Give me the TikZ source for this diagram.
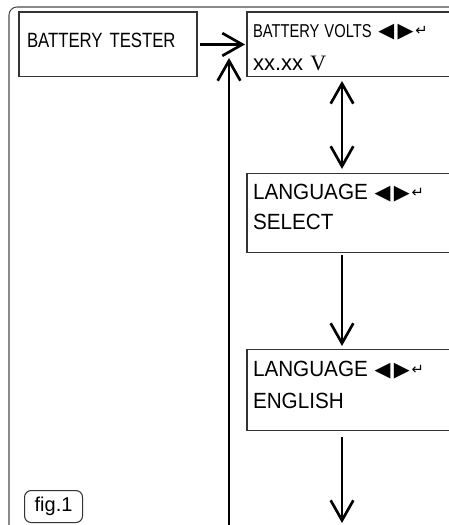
\documentclass[tikz,border=0pt]{standalone}
\usepackage{fontspec}
\usepackage{graphicx}
\setmainfont{Liberation Sans}
\newfontfamily\symfont{DejaVu Sans}
\newfontfamily\voltfont{Liberation Serif}
\usetikzlibrary{arrows.meta, positioning}
\newcommand{\navkeys}{\hspace{5pt}{\symfont\fontsize{15.5}{15.5}\selectfont ◀\hspace{2.5pt}▶\hspace{1.5pt}\raisebox{1.5pt}{\fontsize{11}{11}\selectfont ↵}}}

\begin{document}
\begin{tikzpicture}[x=0.75pt,y=-0.75pt,node distance=72.75pt,
    >={Straight Barb[length=15pt,width=17pt,line width=2pt]},
    screen/.style={draw=black!80, line width=0.8pt, inner xsep=4.5pt, inner ysep=0pt,
                   outer sep=0pt, text width=200pt, align=left},
    flow/.style={line width=2pt, ->}]
      \useasboundingbox (0,0) rectangle (449,525);
      \clip (0,0) rectangle (449,525);
      \draw[black!70, line width=0.8pt, rounded corners=6pt] (9,540) |- (470,7);
      \node[draw=black!80, line width=0.8pt, inner xsep=6pt, inner ysep=0pt, outer sep=0pt,
            text width=121.5pt, align=left, text height=26.6pt, text depth=22.1pt,
            font=\fontsize{15.5}{18}\selectfont\addfontfeature{FakeStretch=0.81},
            anchor=north west] (tester) at (19,12) {BATTERY TESTER};
      \node[screen, text height=19.1pt, text depth=29.6pt,
            font=\fontsize{16.5}{24.75}\selectfont]
            (m_0) [right=37.5pt of tester]
            {\resizebox{89pt}{9.75pt}{BATTERY VOLTS}\navkeys\\xx.xx {\voltfont V}};
      \node[screen, text height=19.5pt, text depth=39.75pt,
            font=\fontsize{16.5}{22.5}\selectfont\addfontfeature{FakeStretch=0.94}]
            (m_1) [below=of m_0] {LANGUAGE\navkeys\\SELECT};
      \node[screen, text height=20.25pt, text depth=40.5pt,
            font=\fontsize{16.5}{24}\selectfont\addfontfeature{FakeStretch=0.94}]
            (m_2) [below=of m_1] {LANGUAGE\navkeys\\ENGLISH};
      \node[draw=black!80, line width=0.8pt, rounded corners=5pt, minimum width=43.5pt,
            minimum height=24pt, inner sep=0pt, font=\fontsize{15}{15}\selectfont,
            anchor=north west] (fig_tag) at (24,490) {fig.1};
      \coordinate (back_foot) at (229,540);
      \coordinate (back_tip) at (229,58);
      \coordinate (next_end) at (342,523);
      \draw[flow, shorten <=2pt, shorten >=1.5pt] (tester) -- (m_0);
      \draw[flow] (back_foot) -- (back_tip);
      \draw[flow, <->, shorten <=3pt, shorten >=3.75pt]
            ([xshift=71.25pt]m_0.south west) -- ([xshift=71.25pt]m_1.north west);
      \draw[flow, shorten <=1.5pt, shorten >=3pt]
            ([xshift=71.25pt]m_1.south west) -- ([xshift=71.25pt]m_2.north west);
      \draw[flow, shorten <=4.5pt] ([xshift=71.25pt]m_2.south west) -- (next_end);
    \end{tikzpicture}
\end{document}
